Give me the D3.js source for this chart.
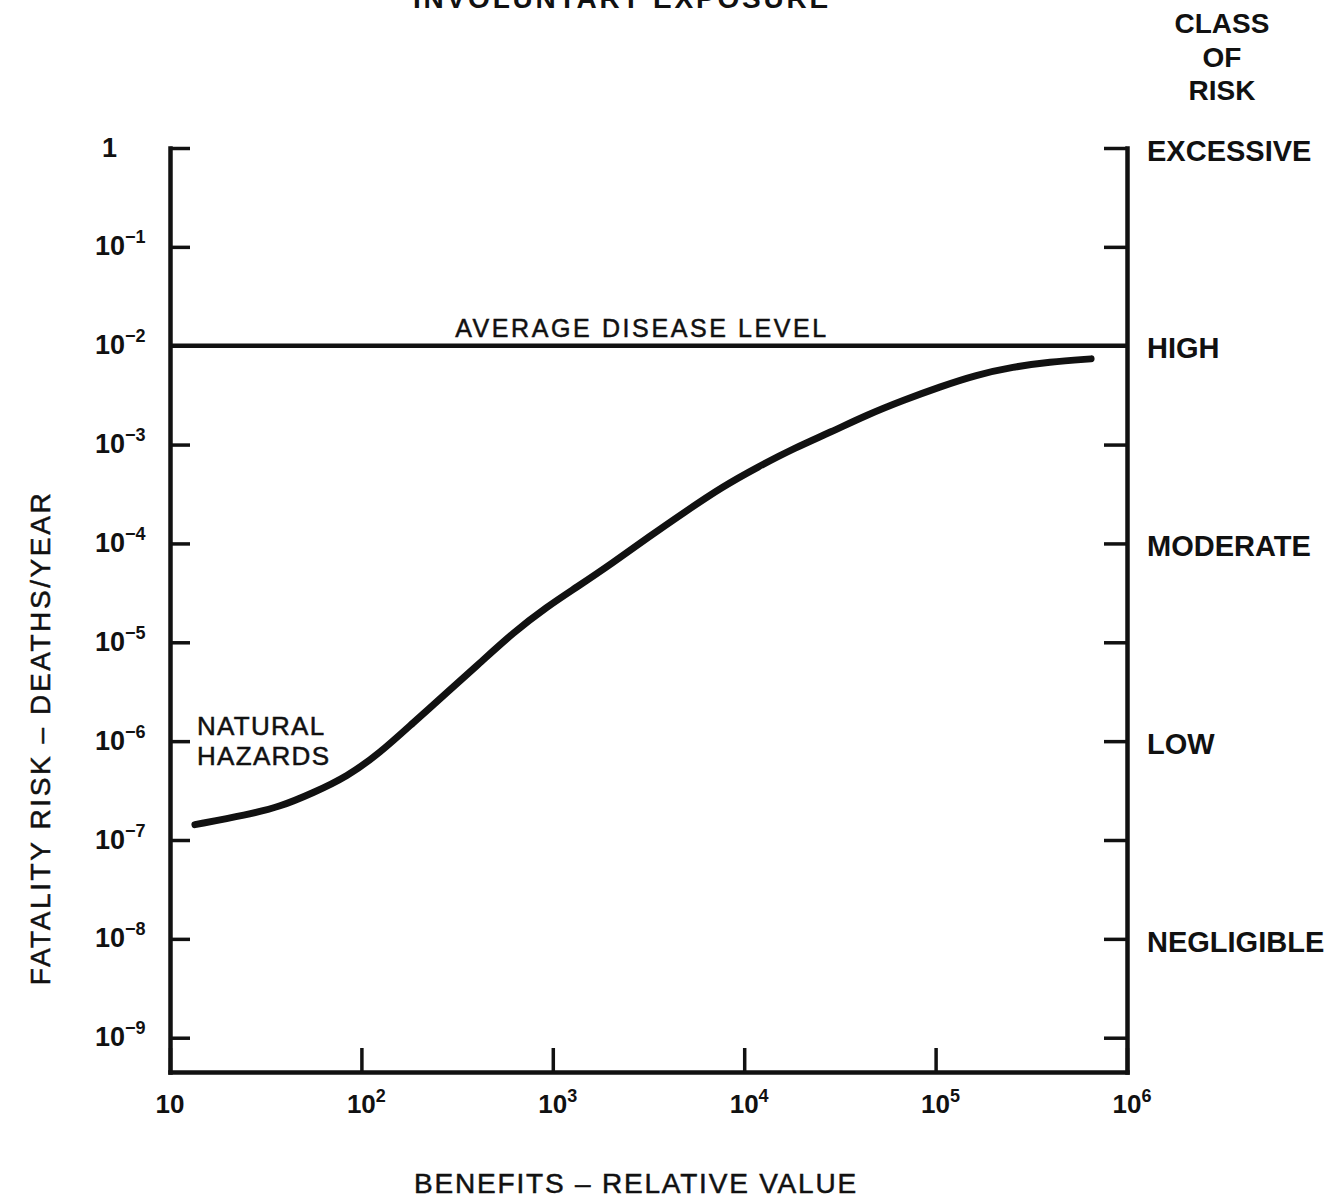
<!DOCTYPE html>
<html>
<head>
<meta charset="utf-8">
<script src="https://cdn.jsdelivr.net/npm/d3@7"></script>
<style>
body { margin: 0; background: #fff; }
svg text { font-family: "Liberation Sans", Arial, Helvetica, sans-serif; fill: #111; }
svg text.thin { stroke: #111; stroke-width: 0.5px; }
</style>
</head>
<body>
<div class="chart"></div>
<script>
// curve: benefit (relative value) vs fatality risk (deaths/year)
var benefits = [13.5, 25.2, 37.6, 55.9, 84.1, 125, 186, 280, 417, 620, 933, 1320, 2060, 3180, 4910, 7660,
    11800, 18400, 28400, 43800, 68400, 105000, 163000, 254000, 391000, 649000];
var risks = [1.43e-7, 1.80e-7, 2.17e-7, 3.0e-7, 4.37e-7, 7.6e-7, 1.53e-6, 3.1e-6, 6.2e-6, 1.25e-5, 2.29e-5,
    3.56e-5, 6.37e-5, 1.17e-4, 2.09e-4, 3.73e-4, 5.95e-4, 9.26e-4, 1.34e-3, 2.0e-3, 2.83e-3, 3.83e-3,
    5.07e-3, 6.1e-3, 6.86e-3, 7.36e-3];

var diseaseLevel = 1e-2;

var xTicks = [10, 1e2, 1e3, 1e4, 1e5, 1e6];
var xExponents = [1, 2, 3, 4, 5, 6];
var yTicks = [1, 1e-1, 1e-2, 1e-3, 1e-4, 1e-5, 1e-6, 1e-7, 1e-8, 1e-9];
var yExponents = [0, -1, -2, -3, -4, -5, -6, -7, -8, -9];
var riskClasses = ["EXCESSIVE", "", "HIGH", "", "MODERATE", "", "LOW", "", "NEGLIGIBLE", ""];

var width = 1344,
height = 1199;

var svg = d3.select("div.chart").append("svg")
    .attr("width", width)
    .attr("height", height)
    .style("display", "block");

svg.append("rect").attr("width", width).attr("height", height).attr("fill", "#fff");

var x = d3.scaleLog().domain([10, 1e6]).range([170, 1127]);
var y = d3.scaleLog().domain([4.5e-10, 1]).range([1072, 148]);

var styleAxis = function(g) {
    g.select(".domain").attr("stroke", "#111").attr("stroke-width", 4.5).attr("stroke-linecap", "square");
    g.selectAll(".tick line").attr("stroke", "#111").attr("stroke-width", 3.5);
};

// left axis, ticks point into the plot
var leftAxis = svg.append("g")
    .attr("class", "y__axis")
    .attr("transform", "translate(" + x(10) + ",0)")
    .call(d3.axisLeft(y).tickValues(yTicks).tickSizeInner(-20).tickSizeOuter(0).tickFormat(""))
    .call(styleAxis);

leftAxis.selectAll(".tick").each(function(d) {
    var i = yTicks.indexOf(d);
    var t = d3.select(this).append("text")
        .attr("x", -75)
        .attr("y", 8)
        .attr("text-anchor", "start")
        .attr("font-size", 27)
        .attr("font-weight", "bold")
        .attr("fill", "#111");
    if (yExponents[i] === 0) {
        t.attr("x", -68).text("1");
    } else {
        t.append("tspan").text("10");
        t.append("tspan").attr("dy", -12).attr("font-size", 18).text("\u2212" + Math.abs(yExponents[i]));
    }
});

// bottom axis
var bottomAxis = svg.append("g")
    .attr("class", "x__axis")
    .attr("transform", "translate(0," + y.range()[0] + ")")
    .call(d3.axisBottom(x).tickValues(xTicks).tickSizeInner(-24).tickSizeOuter(0).tickFormat(""))
    .call(styleAxis);

bottomAxis.selectAll(".tick").each(function(d) {
    var i = xTicks.indexOf(d);
    var t = d3.select(this).append("text")
        .attr("x", -15)
        .attr("y", 41)
        .attr("text-anchor", "start")
        .attr("font-size", 26)
        .attr("font-weight", "bold")
        .attr("fill", "#111");
    t.append("tspan").text("10");
    if (xExponents[i] > 1) {
        t.append("tspan").attr("dy", -11).attr("font-size", 18).text(xExponents[i]);
    }
});

// right axis with the risk classes
var rightAxis = svg.append("g")
    .attr("class", "class__axis")
    .attr("transform", "translate(" + x(1e6) + ",0)")
    .call(d3.axisRight(y).tickValues(yTicks).tickSizeInner(-23).tickSizeOuter(0).tickPadding(20)
        .tickFormat(function(d) { return riskClasses[yTicks.indexOf(d)]; }))
    .call(styleAxis);

rightAxis.selectAll(".tick text")
    .attr("font-size", 29)
    .attr("font-weight", "bold")
    .attr("font-family", null)
    .attr("dy", "0.42em")
    .attr("fill", "#111");

// average disease level
svg.append("line")
    .attr("x1", x(10))
    .attr("x2", x(1e6))
    .attr("y1", y(diseaseLevel))
    .attr("y2", y(diseaseLevel))
    .attr("stroke", "#111")
    .attr("stroke-width", 4.5);

svg.append("text")
    .attr("class", "thin")
    .attr("x", 642)
    .attr("y", y(diseaseLevel) - 9)
    .attr("text-anchor", "middle")
    .attr("font-size", 25)
    .style("letter-spacing", "2.6px")
    .text("AVERAGE DISEASE LEVEL");

// the risk curve
var line = d3.line()
    .x(function(d) { return x(d[0]); })
    .y(function(d) { return y(d[1]); })
    .curve(d3.curveBasis);

svg.append("path")
    .datum(d3.zip(benefits, risks))
    .attr("d", line)
    .attr("fill", "none")
    .attr("stroke", "#111")
    .attr("stroke-width", 7)
    .attr("stroke-linecap", "round");

svg.append("text")
    .attr("class", "thin")
    .attr("x", x(10) + 27)
    .attr("y", y(1e-6) - 6)
    .attr("font-size", 26)
    .style("letter-spacing", "1.3px")
    .text("NATURAL");
svg.append("text")
    .attr("class", "thin")
    .attr("x", x(10) + 27)
    .attr("y", y(1e-6) + 24)
    .attr("font-size", 26)
    .style("letter-spacing", "1.3px")
    .text("HAZARDS");

// titles
svg.append("text")
    .attr("x", 622)
    .attr("y", 8)
    .attr("text-anchor", "middle")
    .attr("font-size", 28)
    .attr("font-weight", "bold")
    .style("letter-spacing", "2.8px")
    .text("INVOLUNTARY EXPOSURE");

var classTitle = ["CLASS", "OF", "RISK"];
svg.append("g").selectAll("text")
    .data(classTitle)
    .enter()
    .append("text")
    .attr("x", 1222)
    .attr("y", function(d, i) { return 33 + i * 33.5; })
    .attr("text-anchor", "middle")
    .attr("font-size", 28)
    .attr("font-weight", "bold")
    .text(function(d) { return d; });

svg.append("text")
    .attr("class", "thin")
    .attr("x", 636)
    .attr("y", 1193)
    .attr("text-anchor", "middle")
    .attr("font-size", 28)
    .style("letter-spacing", "1.8px")
    .text("BENEFITS \u2013 RELATIVE VALUE");

svg.append("text")
    .attr("class", "thin")
    .attr("transform", "translate(50,738) rotate(-90)")
    .attr("text-anchor", "middle")
    .attr("font-size", 28)
    .style("letter-spacing", "2.6px")
    .text("FATALITY RISK \u2013 DEATHS/YEAR");
</script>
</body>
</html>
